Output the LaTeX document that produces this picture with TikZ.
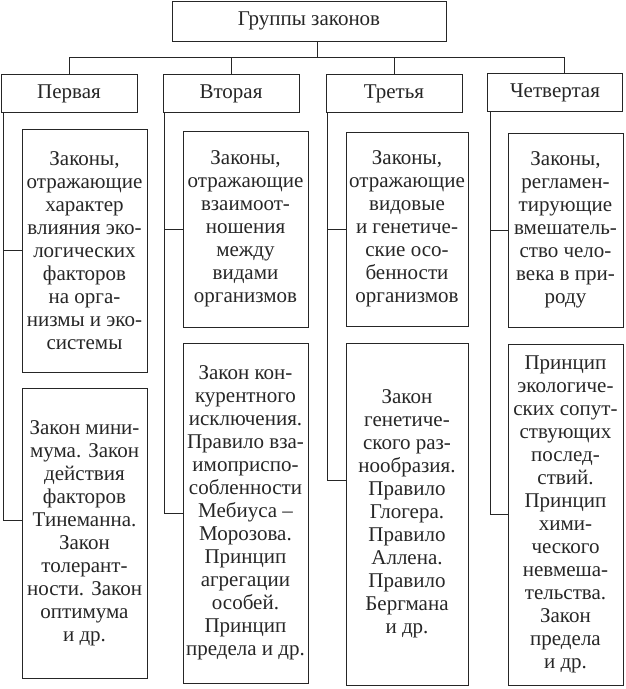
\documentclass[tikz,border=0pt]{standalone}
\usepackage{fontspec}
\setmainfont{Liberation Serif}
\begin{document}
\begin{tikzpicture}[x=1pt,y=1pt,line width=0.9pt,
    box/.style={draw=black!85, rectangle, inner sep=1pt, align=center, text=black!85, font=\fontsize{21}{23}\selectfont},
    head/.style={box, minimum height=38pt, minimum width=136pt},
    law/.style={box, minimum width=125pt}]
    \useasboundingbox (0,0) rectangle (625,-689);

    \node[box, minimum width=274pt, minimum height=40pt] (top) at (309,-21) {Группы законов};

    \node[head] (g1) at (69,-93.5) {Первая};
    \node[head] (g2) at (231,-93.5) {Вторая};
    \node[head] (g3) at (394,-93.5) {Третья};
    \node[head, minimum width=135pt] (g4) at (555,-92.5) {Четвертая};

    \node[law, minimum height=243pt] (u1) at (84.5,-250.5) {Законы,\\отражающие\\характер\\влияния эко-\\логических\\факторов\\на орга-\\низмы и эко-\\системы};
    \node[law, minimum height=290pt] (l1) at (84.5,-533) {Закон мини-\\мума. Закон\\действия\\факторов\\Тинеманна.\\Закон\\толерант-\\ности. Закон\\оптимума\\и др.};

    \node[law, minimum height=196pt] (u2) at (245.5,-229) {Законы,\\отражающие\\взаимоот-\\ношения\\между\\видами\\организмов};
    \node[law, minimum height=340pt] (l2) at (245.5,-513) {Закон кон-\\курентного\\исключения.\\Правило вза-\\имоприспо-\\собленности\\Мебиуса –\\Морозова.\\Принцип\\агрегации\\особей.\\Принцип\\предела и др.};

    \node[law, minimum width=122pt, minimum height=194pt] (u3) at (407,-229) {Законы,\\отражающие\\видовые\\и генетиче-\\ские осо-\\бенности\\организмов};
    \node[law, minimum width=122pt, minimum height=342pt] (l3) at (407,-514) {Закон\\генетиче-\\ского раз-\\нообразия.\\Правило\\Глогера.\\Правило\\Аллена.\\Правило\\Бергмана\\и др.};

    \node[law, minimum width=115pt, minimum height=194pt] (u4) at (565.5,-230) {Законы,\\регламен-\\тирующие\\вмешатель-\\ство чело-\\века в при-\\роду};
    \node[law, minimum width=115pt, minimum height=341pt] (l4) at (565.5,-514.5) {Принцип\\экологиче-\\ских сопут-\\ствующих\\послед-\\ствий.\\Принцип\\хими-\\ческого\\невмеша-\\тельства.\\Закон\\предела\\и др.};

    \coordinate (hub) at (317,-57);
    \coordinate (d4) at (564,-57);
    \coordinate (v1) at ([xshift=3pt]g1.south west);
    \coordinate (v2) at ([xshift=2pt]g2.south west);
    \coordinate (v3) at ([xshift=2pt]g3.south west);
    \coordinate (v4) at ([xshift=3pt]g4.south west);

    \draw[black!85] (top.south -| hub) -- (hub);
    \draw[black!85] (g1.north) |- (d4) -- (d4 |- g4.north);
    \draw[black!85] (g2.north) -- (g2.north |- hub);
    \draw[black!85] (g3.north) -- (g3.north |- hub);

    \draw[black!85] (v1) |- ([yshift=13pt]l1.west);
    \draw[black!85] (v1 |- u1.west) -- (u1.west);
    \draw[black!85] (v2) |- (l2.west);
    \draw[black!85] (v2 |- u2.west) -- (u2.west);
    \draw[black!85] (v3) |- ([yshift=34pt]l3.west);
    \draw[black!85] (v3 |- u3.west) -- (u3.west);
    \draw[black!85] (v4) |- (l4.west);
    \draw[black!85] (v4 |- u4.west) -- (u4.west);
\end{tikzpicture}
\end{document}
